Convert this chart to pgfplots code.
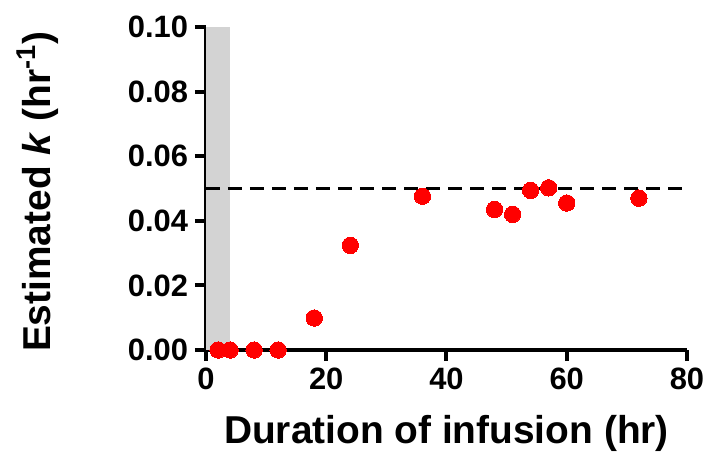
\documentclass[border=0pt]{standalone}
\usepackage{pgfplots}
\pgfplotsset{compat=1.18}
\usepackage{fontspec}
\setmainfont{Liberation Sans}

\definecolor{shade}{RGB}{211,211,211}

\begin{document}
\begin{tikzpicture}
% frame of the whole picture, in the proportions of the reference
\path[use as bounding box] (-103bp,-63bp) rectangle (251.5bp,175bp);
\begin{axis}[
  scale only axis,
  width=240.5bp, height=161.5bp,
  anchor=south west, at={(0,0)},
  xmin=0, xmax=80, ymin=0, ymax=0.1,
  xtick={0,20,40,60,80},
  ytick={0,0.02,0.04,0.06,0.08,0.1},
  scaled y ticks=false,
  yticklabel style={/pgf/number format/.cd, fixed, fixed zerofill, precision=2},
  /pgf/number format/assume math mode=true,
  axis lines=left,
  axis line style={-, line width=2bp},
  tick align=outside,
  major tick length=5.5bp,
  every tick/.style={black, line width=2bp},
  ticklabel style={font=\fontsize{15.5}{18}\selectfont\bfseries},
  xlabel={Duration of infusion (hr)},
  ylabel={Estimated \textit{k} (hr\textsuperscript{-1})},
  every axis x label/.style={at={(axis description cs:0.5,-0.257)}, anchor=center,
    font=\fontsize{19.5}{23}\selectfont\bfseries},
  every axis y label/.style={at={(axis description cs:-0.349,0.49)}, anchor=center, rotate=90,
    font=\fontsize{19.5}{23}\selectfont\bfseries},
  clip=false,
]
\addplot [fill=shade, draw=none] coordinates {(0,0.1) (4,0.1)} \closedcycle;
\addplot [black, line width=1.5bp, dash pattern=on 7bp off 4bp] coordinates {(0,0.05) (80,0.05)};
\addplot [only marks, mark=*, mark size=4.1bp, mark options={fill=red, draw=red, line width=0pt}]
table {%
2 0
4 0
8 0
12 0
18 0.0099
24 0.0324
36 0.0476
48 0.0435
51 0.0420
54 0.0494
57 0.0502
60 0.0455
72 0.0470
};
\end{axis}
\end{tikzpicture}
\end{document}
